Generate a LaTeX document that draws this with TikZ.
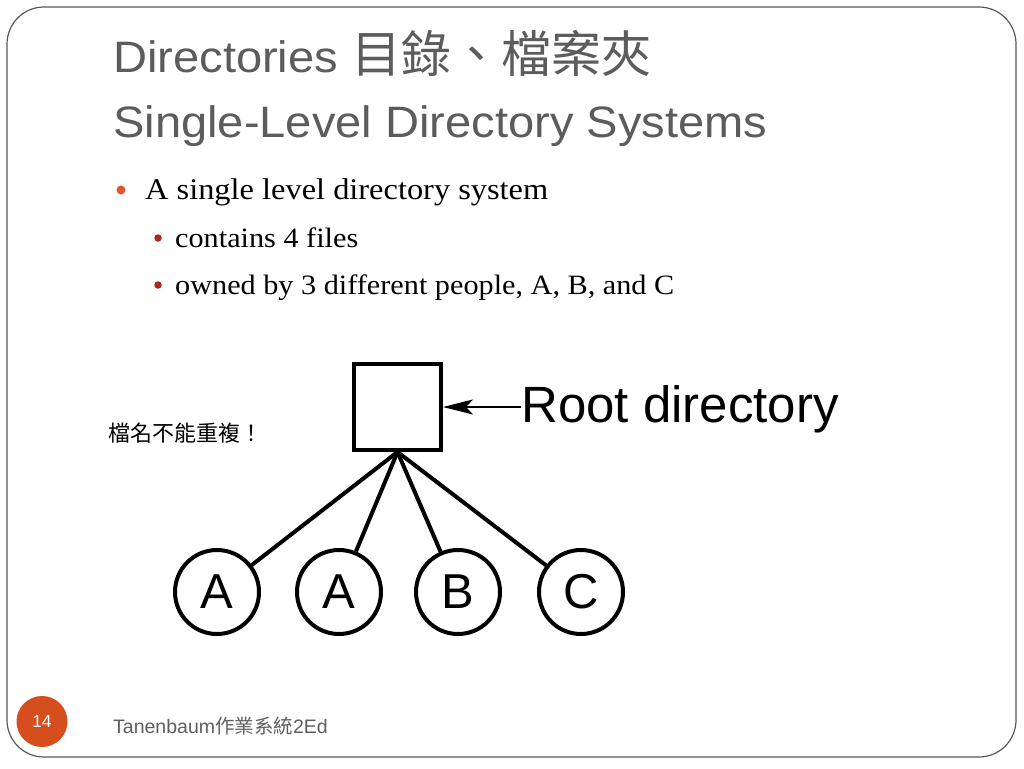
\documentclass[tikz,border=0pt]{standalone}
\usepackage{xcolor}
\usepackage{fontspec}
\setmainfont{Liberation Serif}[FakeStretch=1.08]
\setsansfont{Liberation Sans}
\newfontfamily\titlefont{Liberation Sans}[FakeStretch=1.07]
\newfontfamily\cjk{Noto Sans CJK TC}
\usepackage{tikz}
\usetikzlibrary{arrows.meta,positioning}
\tikzset{>=Stealth}
\definecolor{titlegray}{RGB}{92,92,92}
\definecolor{footgray}{RGB}{95,95,95}
\definecolor{bulletone}{RGB}{222,88,40}
\definecolor{bullettwo}{RGB}{168,40,32}
\definecolor{pagedot}{RGB}{214,78,30}
\tikzset{
  dotone/.style={circle,fill=bulletone,inner sep=0pt,minimum size=9pt},
  dottwo/.style={circle,fill=bullettwo,inner sep=0pt,minimum size=7.5pt},
  filenode/.style={circle,draw,line width=4pt,minimum size=84pt,inner sep=0pt,
    font=\sffamily\fontsize{49}{49}\selectfont},
  link/.style={line width=4pt}
}

\begin{document}
\begin{tikzpicture}[x=1pt,y=-1pt]

\fill[white] (0,0) rectangle (1024,768);
\useasboundingbox (0,0) rectangle (1024,768);
\draw[rounded corners=37pt, color=black!65, line width=1.2pt] (7,7) rectangle (1016,757);%slide frame

    % title
    \node[anchor=base west,inner sep=0pt,text=titlegray,font=\titlefont\fontsize{44}{52}\selectfont] (title1) at (113,72) {Directories {\cjk\fontsize{50}{52}\selectfont 目錄、檔案夾}};
    \node[anchor=base west,inner sep=0pt,text=titlegray,font=\titlefont\fontsize{44}{52}\selectfont] (title2) at (113,137) {Single-Level Directory Systems};

    % bullets
    \node[dotone] (b1) at (121,190) {};
    \node[anchor=base west,inner sep=0pt,font=\fontsize{30}{36}\selectfont] (item1) at (145,199) {A single level directory system};
    \node[dottwo] (b2) at (158,238) {};
    \node[anchor=base west,inner sep=0pt,font=\fontsize{28}{34}\selectfont] (item2) at (175,247) {contains 4 files};
    \node[dottwo] (b3) at (158,285) {};
    \node[anchor=base west,inner sep=0pt,font=\fontsize{28}{34}\selectfont] (item3) at (175,294) {owned by 3 different people, A, B, and C};

    % tree
    \node[draw,line width=4pt,minimum width=87pt,minimum height=86pt,inner sep=0pt] (root) at (397.5,407) {};
    \node[anchor=base west,inner sep=0pt,font=\sffamily\fontsize{51}{51}\selectfont] (rootlabel) at (521,422) {Root directory};
    \draw[line width=2pt, arrows={Stealth[length=30pt,width=15pt,inset=7pt]-}] (root.east) -- (root.east -| rootlabel.west);%pointer to root

    \node[filenode] (f1) at (217,592) {A};
    \node[filenode] (f2) at (339,592) {A};
    \node[filenode] (f3) at (458,592) {B};
    \node[filenode] (f4) at (581,592) {C};
    \foreach \f in {f1,f2,f3,f4}
      \draw[link] (root.south) -- (\f);

    \node[anchor=west,inner sep=0pt,font=\cjk\fontsize{22}{22}\selectfont] (note) at (108,433) {檔名不能重複！};

    % footer
    \node[circle,fill=pagedot,minimum size=51pt,inner sep=0pt,text=white,font=\sffamily\fontsize{17.5}{17.5}\selectfont] (page) at (42,721.5) {14};
    \node[anchor=base west,inner sep=0pt,text=footgray,font=\sffamily\fontsize{19.5}{20}\selectfont] (foot) at (113,733) {Tanenbaum{\cjk 作業系統}2Ed};

\end{tikzpicture}
\end{document}
